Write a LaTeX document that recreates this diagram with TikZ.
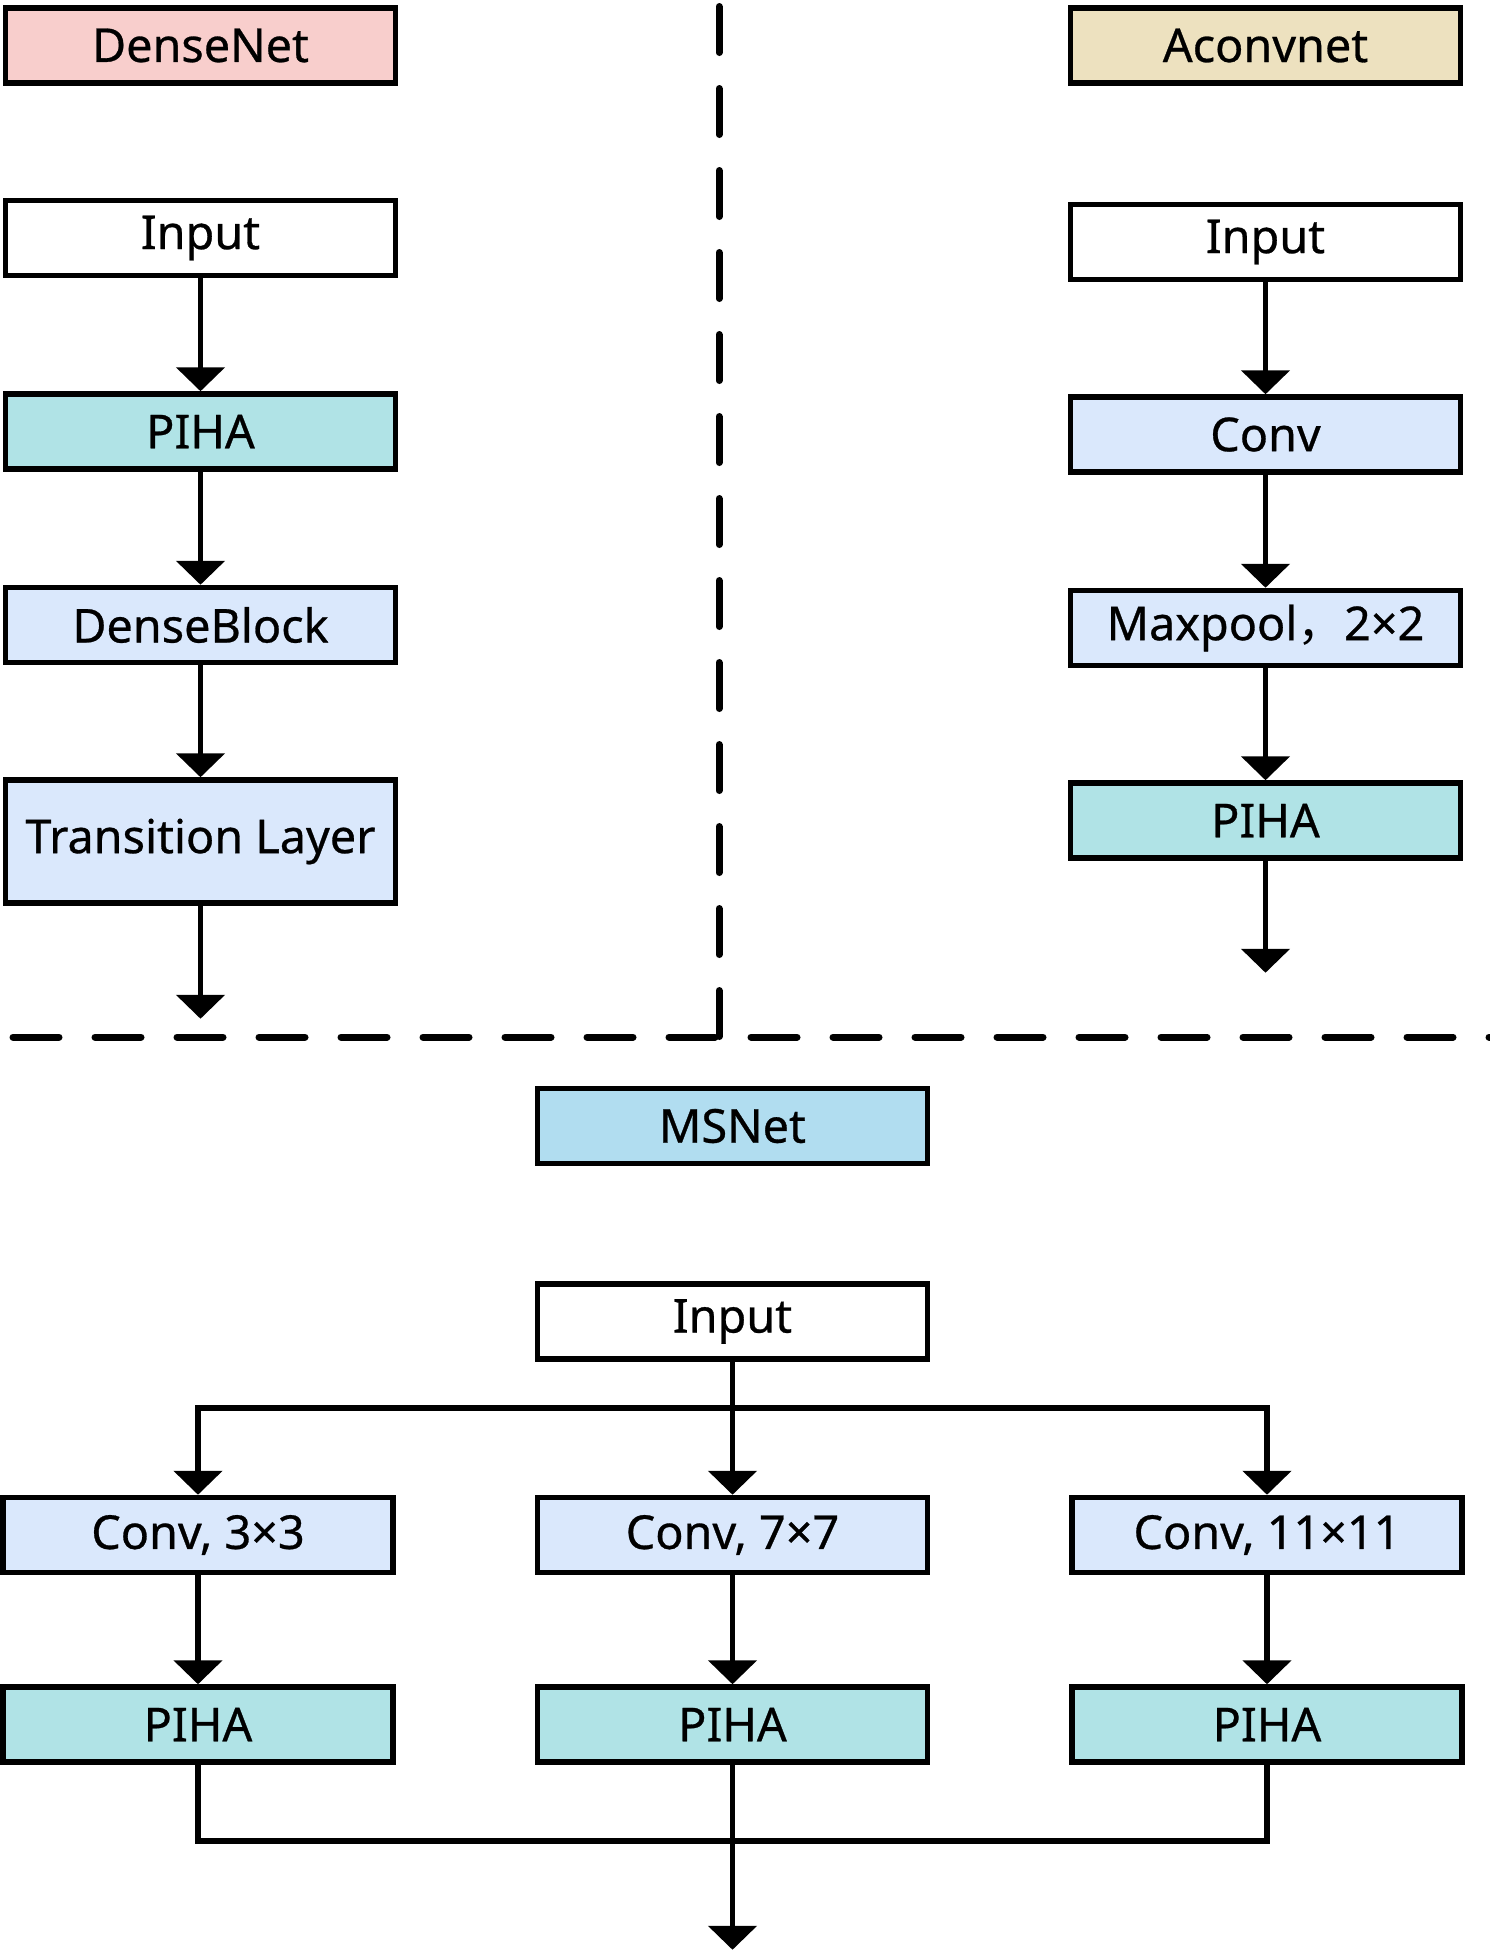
\documentclass[tikz,border=0pt]{standalone}
\usepackage{fontspec}
\setmainfont{Noto Sans}[FakeBold=0.6]
\newfontfamily\cjk{Noto Sans CJK SC}
\usepackage{xcolor}
\usetikzlibrary{arrows.meta,positioning}
\definecolor{DensePink}{HTML}{F8CECC}
\definecolor{AconvTan}{HTML}{EDE1BF}
\definecolor{MSBlue}{HTML}{B1DDF0}
\definecolor{ConvBlue}{HTML}{DAE8FC}
\definecolor{PihaCyan}{HTML}{B0E3E6}
\tikzset{
  plainbox/.style={draw=black, line width=0.055cm, fill=white, align=center, minimum width=3.9cm, minimum height=0.75cm, inner sep=0pt},
  titlebox/.style={plainbox, fill=#1},
  convbox/.style={plainbox, fill=ConvBlue},
  pihabox/.style={plainbox, fill=PihaCyan},
  arrow/.style={-{Triangle[length=0.24cm, width=0.48cm]}, line width=0.055cm},
  joinline/.style={line width=0.055cm},
  divider/.style={line width=0.07cm, line cap=round, dash pattern=on 0.46cm off 0.36cm}
}
\begin{document}
\begin{tikzpicture}[node distance=1.12cm, font=\fontsize{13.3pt}{15pt}\selectfont]
    \useasboundingbox (0,0) rectangle (14.9,-19.53);

    \node[titlebox=DensePink] (densenet) at (2.005,-0.455) {DenseNet};
    \node[plainbox, below=of densenet] (dinput) {Input};
    \node[pihabox, below=1.13cm of dinput] (dpiha) {PIHA};
    \node[convbox, below=1.13cm of dpiha] (dblock) {DenseBlock};
    \node[convbox, below=of dblock, minimum height=1.23cm] (dtrans) {Transition Layer};
    \coordinate[below=1.13cm of dtrans] (dout);

    \node[titlebox=AconvTan] (aconvnet) at (12.655,-0.455) {Aconvnet};
    \node[plainbox, below=1.16cm of aconvnet] (ainput) {Input};
    \node[convbox, below=of ainput] (aconv) {Conv};
    \node[convbox, below=1.13cm of aconv] (apool) {Maxpool{\cjk ，}2\texttimes2};
    \node[pihabox, below=of apool] (apiha) {PIHA};
    \coordinate[below=of apiha] (aout);

    \node[titlebox=MSBlue] (msnet) at (7.325,-11.26) {MSNet};
    \node[plainbox, below=1.15cm of msnet] (minput) {Input};
    \node[convbox, below=1.33cm of minput] (convb) {Conv, 7\texttimes7};
    \node[convbox, left=1.39cm of convb] (conva) {Conv, 3\texttimes3};
    \node[convbox, right=1.39cm of convb] (convc) {Conv, 11\texttimes11};
    \node[pihabox, below=1.09cm of conva] (pihaa) {PIHA};
    \node[pihabox, below=1.09cm of convb] (pihab) {PIHA};
    \node[pihabox, below=1.09cm of convc] (pihac) {PIHA};
    \coordinate[below=0.46cm of minput] (split);
    \coordinate[below=0.76cm of pihab] (merge);
    \coordinate[below=1.85cm of pihab] (mout);

    \draw[divider] (7.19,-0.065) -- (7.19,-10.37);
    \draw[divider] (0.13,-10.37) -- (14.9,-10.37);

    \draw[arrow] (dinput) -- (dpiha);
    \draw[arrow] (dpiha) -- (dblock);
    \draw[arrow] (dblock) -- (dtrans);
    \draw[arrow] (dtrans) -- (dout);

    \draw[arrow] (ainput) -- (aconv);
    \draw[arrow] (aconv) -- (apool);
    \draw[arrow] (apool) -- (apiha);
    \draw[arrow] (apiha) -- (aout);

    \draw[arrow] (minput) -- (convb);
    \draw[arrow] (split) -| (conva);
    \draw[arrow] (split) -| (convc);
    \draw[arrow] (conva) -- (pihaa);
    \draw[arrow] (convb) -- (pihab);
    \draw[arrow] (convc) -- (pihac);
    \draw[joinline] (pihaa) |- (merge) -| (pihac);
    \draw[arrow] (pihab) -- (mout);
  \end{tikzpicture}
\end{document}
